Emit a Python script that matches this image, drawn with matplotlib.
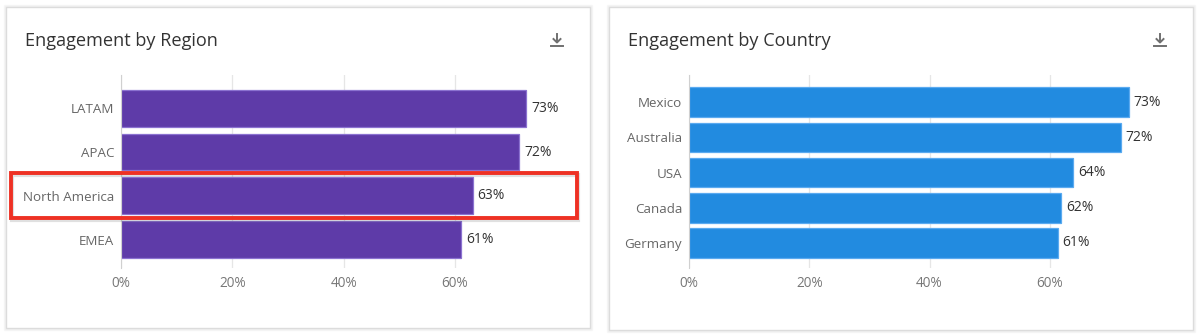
import matplotlib
matplotlib.use("Agg")
import matplotlib.pyplot as plt
from matplotlib.patches import Rectangle
from matplotlib.lines import Line2D

plt.rcParams['font.family'] = ['Open Sans', 'DejaVu Sans']

# Data
region_titles = "Engagement by Region"
regions = ["LATAM", "APAC", "North America", "EMEA"]
region_values = [72.8, 71.6, 63.2, 61.1]
highlight_region = "North America"

country_title = "Engagement by Country"
countries = ["Mexico", "Australia", "USA", "Canada", "Germany"]
country_values = [73.1, 71.8, 63.9, 61.9, 61.3]

x_ticks = [0, 20, 40, 60]
x_tick_labels = ["0%", "20%", "40%", "60%"]

W, H = 1200, 335
fig = plt.figure(figsize=(W / 100, H / 100), dpi=100)
fig.patch.set_facecolor("white")


def fx(px):
    return px / W


def fy(py):
    return 1 - py / H


def card(x0, y0, x1, y1):
    for i, a in enumerate([0.05, 0.03]):
        fig.patches.append(Rectangle((fx(x0 - 1 - i), fy(y1 + 1 + i)), fx(x1 - x0 + 2 + 2 * i),
                                     (y1 - y0 + 2 + 2 * i) / H, transform=fig.transFigure,
                                     facecolor="none", edgecolor=(0, 0, 0, a), lw=1.0, zorder=-2))
    fig.patches.append(Rectangle((fx(x0), fy(y1)), fx(x1 - x0), (y1 - y0) / H,
                                 transform=fig.transFigure, facecolor="white",
                                 edgecolor="#dcdcdc", lw=1.0, zorder=-1))


def download_icon(cx, cy):
    col = "#707070"
    fig.add_artist(Line2D([fx(cx), fx(cx)], [fy(cy - 6), fy(cy + 2)], color=col, lw=1.4,
                          transform=fig.transFigure))
    fig.add_artist(Line2D([fx(cx - 3.5), fx(cx), fx(cx + 3.5)], [fy(cy - 1), fy(cy + 2.5), fy(cy - 1)],
                          color=col, lw=1.4, transform=fig.transFigure))
    fig.add_artist(Line2D([fx(cx - 6), fx(cx + 6)], [fy(cy + 6), fy(cy + 6)], color=col, lw=1.4,
                          transform=fig.transFigure))


def panel(ax_left, ax_right, cats, vals, color, edge, ylim):
    ax = fig.add_axes([fx(ax_left), fy(268), fx(ax_right - ax_left), (268 - 75) / H])
    ax.set_zorder(2)
    y = list(range(len(cats)))
    ax.barh(y, vals, height=0.84, color=color, edgecolor=edge, linewidth=0.9, zorder=2)
    ax.set_ylim(*ylim)
    ax.set_xlim(0, 78)
    ax.set_yticks(y)
    ax.set_yticklabels(cats, fontsize=9.6, color="#666666")
    ax.set_xticks(x_ticks)
    ax.set_xticklabels(x_tick_labels, fontsize=9.8, color="#777777")
    ax.tick_params(axis="both", length=0)
    ax.tick_params(axis="y", pad=5)
    ax.tick_params(axis="x", pad=6)
    for s in ["top", "right", "bottom"]:
        ax.spines[s].set_visible(False)
    ax.spines["left"].set_color("#d0d0d0")
    ax.spines["left"].set_linewidth(0.8)
    ax.grid(axis="x", color="#e6e6e6", lw=0.9, zorder=0)
    ax.set_axisbelow(True)
    ax.patch.set_alpha(0)
    for yi, v in zip(y, vals):
        ax.annotate(f"{round(v)}%", (v, yi), xytext=(3.5, 0), textcoords="offset points",
                    va="center", ha="left", fontsize=10, color="#333333")
    return ax


card(6, 7, 590, 328)
card(609, 7, 1193, 330)

fig.text(fx(25), fy(41), region_titles, fontsize=13.1, color="#333333", va="center", ha="left")
fig.text(fx(628), fy(41), country_title, fontsize=13.1, color="#333333", va="center", ha="left")
download_icon(557, 40)
download_icon(1160, 40)

axL = panel(121, 555, regions, region_values, "#5E3BA8", "#8B72D0", (3.65, -0.76))
axR = panel(689, 1158, countries, country_values, "#228BE0", "#5AAAF0", (4.71, -0.77))

# highlight box around North America row
hi = regions.index(highlight_region)
x0, x1 = 11, 577
y_top, y_bot = 173, 218
fig.patches.append(Rectangle((fx(x0 + 1), fy(y_bot + 2)), fx(x1 - x0), (y_bot - y_top) / H,
                             transform=fig.transFigure, facecolor="none",
                             edgecolor=(0, 0, 0, 0.12), lw=3, zorder=4))
fig.patches.append(Rectangle((fx(x0), fy(y_bot)), fx(x1 - x0), (y_bot - y_top) / H,
                             transform=fig.transFigure, facecolor="none",
                             edgecolor="#EE3124", lw=2.8, zorder=5))

fig.savefig("out.png", dpi=100, facecolor="white")
